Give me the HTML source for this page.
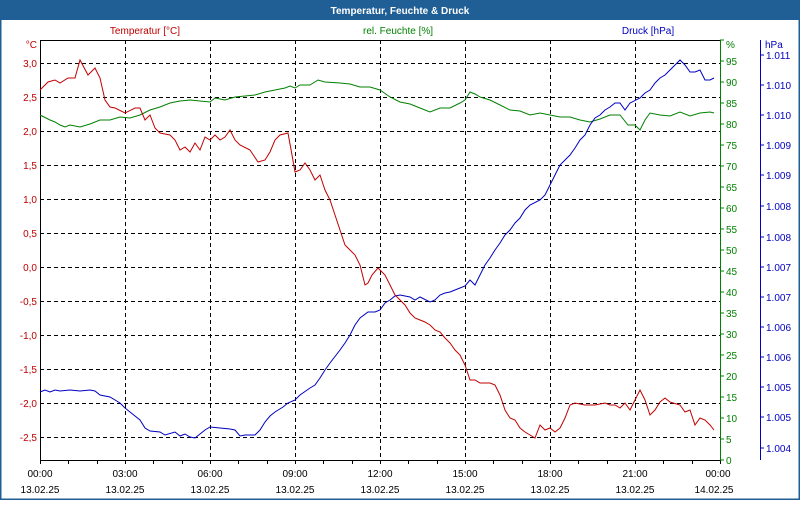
<!DOCTYPE html>
<html><head><style>
body{margin:0;width:800px;height:500px;overflow:hidden;background:#fff;font-family:"Liberation Sans",sans-serif}
</style></head><body>
<svg width="800" height="500" xmlns="http://www.w3.org/2000/svg" font-family="Liberation Sans, sans-serif" font-size="10">
<rect x="0" y="0" width="800" height="500" fill="#fff"/>
<rect x="0" y="0" width="800" height="20" fill="#1f5f96"/>
<rect x="0.5" y="0.5" width="799" height="499" fill="none" stroke="#1f5f96" stroke-width="2"/>
<text x="400" y="14" fill="#fff" font-weight="bold" text-anchor="middle" font-size="10">Temperatur, Feuchte &amp; Druck</text>
<text x="145" y="34" fill="#c00000" text-anchor="middle">Temperatur [°C]</text>
<text x="398" y="34" fill="#008000" text-anchor="middle">rel. Feuchte [%]</text>
<text x="648" y="34" fill="#0000c0" text-anchor="middle">Druck [hPa]</text>
<text x="37" y="48" fill="#c00000" text-anchor="end">°C</text>
<text x="726" y="48" fill="#008000">%</text>
<text x="765" y="48" fill="#0000c0">hPa</text>
<g stroke="#000" stroke-dasharray="4,3" stroke-width="1">
<path d="M40 63.5H720M40 97.5H720M40 131.5H720M40 165.5H720M40 199.5H720M40 233.5H720M40 267.5H720M40 301.5H720M40 335.5H720M40 369.5H720M40 403.5H720M40 437.5H720"/>
<path d="M125.5 40V460M210.5 40V460M295.5 40V460M380.5 40V460M465.5 40V460M550.5 40V460M635.5 40V460"/>
</g>
<path d="M40.5 40V460.5H720M40 40.5H720" stroke="#000" fill="none"/>
<path d="M720.5 40V460" stroke="#008000"/>
<path d="M760.5 40V460" stroke="#0000c0"/>
<g stroke="#000"><path d="M40.5 460v4M68.5 460v4M97.5 460v4M125.5 460v4M153.5 460v4M182.5 460v4M210.5 460v4M238.5 460v4M267.5 460v4M295.5 460v4M323.5 460v4M352.5 460v4M380.5 460v4M408.5 460v4M437.5 460v4M465.5 460v4M493.5 460v4M522.5 460v4M550.5 460v4M578.5 460v4M607.5 460v4M635.5 460v4M663.5 460v4M692.5 460v4M720.5 460v4"/></g>
<g fill="#c00000" text-anchor="end">
<text x="37" y="67">3,0</text><text x="37" y="101">2,5</text><text x="37" y="135">2,0</text><text x="37" y="169">1,5</text><text x="37" y="203">1,0</text><text x="37" y="237">0,5</text><text x="37" y="271">0,0</text><text x="37" y="305">-0,5</text><text x="37" y="339">-1,0</text><text x="37" y="373">-1,5</text><text x="37" y="407">-2,0</text><text x="37" y="441">-2,5</text>
</g>
<g fill="#008000" stroke="#008000">
<path d="M720 460h4M720 439h4M720 418h4M720 397h4M720 376h4M720 355h4M720 334h4M720 313h4M720 292h4M720 271h4M720 250h4M720 229h4M720 208h4M720 187h4M720 166h4M720 145h4M720 124h4M720 103h4M720 82h4M720 61h4M720 40h4"/>
</g>
<g fill="#008000">
<text x="726" y="464">0</text><text x="726" y="443">5</text><text x="726" y="422">10</text><text x="726" y="401">15</text><text x="726" y="380">20</text><text x="726" y="359">25</text><text x="726" y="338">30</text><text x="726" y="317">35</text><text x="726" y="296">40</text><text x="726" y="275">45</text><text x="726" y="254">50</text><text x="726" y="233">55</text><text x="726" y="212">60</text><text x="726" y="191">65</text><text x="726" y="170">70</text><text x="726" y="149">75</text><text x="726" y="128">80</text><text x="726" y="107">85</text><text x="726" y="86">90</text><text x="726" y="65">95</text>
</g>
<g stroke="#0000c0"><path d="M760 55h4M760 85h4M760 115h4M760 145h4M760 175h4M760 206h4M760 237h4M760 267h4M760 297h4M760 327h4M760 357h4M760 387h4M760 417h4M760 448h4"/></g>
<g fill="#0000c0">
<text x="766" y="59">1.011</text><text x="766" y="89">1.010</text><text x="766" y="119">1.010</text><text x="766" y="149">1.009</text><text x="766" y="179">1.009</text><text x="766" y="210">1.008</text><text x="766" y="241">1.008</text><text x="766" y="271">1.007</text><text x="766" y="301">1.007</text><text x="766" y="331">1.006</text><text x="766" y="361">1.006</text><text x="766" y="391">1.005</text><text x="766" y="421">1.005</text><text x="766" y="452">1.004</text>
</g>
<g fill="#000" text-anchor="middle">
<text x="40" y="477">00:00</text><text x="125" y="477">03:00</text><text x="210" y="477">06:00</text><text x="295" y="477">09:00</text><text x="380" y="477">12:00</text><text x="465" y="477">15:00</text><text x="550" y="477">18:00</text><text x="635" y="477">21:00</text><text x="718" y="477">00:00</text>
<text x="40" y="493">13.02.25</text><text x="125" y="493">13.02.25</text><text x="210" y="493">13.02.25</text><text x="295" y="493">13.02.25</text><text x="380" y="493">13.02.25</text><text x="465" y="493">13.02.25</text><text x="550" y="493">13.02.25</text><text x="635" y="493">13.02.25</text><text x="714" y="493">14.02.25</text>
</g>
<g fill="none" stroke-width="1">
<polyline stroke="#008000" points="40,115 50,120 55,122 60,125 65,127 70,125 80,127 90,124 100,120 110,120 120,117 130,118 140,115 150,110 160,107 170,103 180,101 190,100 200,101 210,102 215,98 225,100 235,97 245,96 255,95 265,92 275,90 285,88 290,86 295,88 300,85 310,85 318,80 325,82 340,83 350,84 360,87 370,87 380,90 390,97 400,102 410,104 420,108 430,112 440,108 450,108 460,103 465,100 470,92 475,94 480,97 490,100 500,105 510,110 520,111 530,115 540,113 550,115 560,117 570,117 580,120 590,122 600,119 610,115 620,115 628,125 635,125 640,130 645,120 650,113 660,115 670,116 680,112 690,116 700,113 710,112 714,113"/>
<polyline stroke="#0000c0" points="40,392 45,390 50,392 55,390 60,391 70,390 80,391 90,390 95,391 100,395 110,397 120,403 125,408 130,412 140,420 145,428 150,431 160,432 165,435 175,432 180,436 185,434 190,437 195,438 200,434 205,430 210,427 220,428 230,429 235,430 240,436 245,435 255,435 260,430 265,422 270,416 275,412 283,407 288,403 295,400 300,395 310,388 315,385 320,378 325,370 330,363 340,350 345,343 350,335 355,325 360,318 368,312 375,312 380,310 385,303 390,300 395,296 400,295 410,297 415,300 420,297 430,302 435,300 440,295 445,293 450,292 460,288 465,286 470,280 475,285 480,275 485,265 490,258 495,250 500,243 505,235 510,230 515,223 520,218 525,210 530,205 540,200 545,195 550,185 555,175 560,165 570,155 575,148 580,140 585,135 590,125 595,118 600,115 605,110 610,107 615,103 620,103 625,110 630,103 640,98 645,93 650,90 655,83 660,78 665,75 670,70 675,65 680,60 685,65 690,72 695,72 700,70 705,80 710,80 714,78"/>
<polyline stroke="#c00000" points="40,90 48,82 55,80 60,83 68,78 75,78 80,60 88,75 95,68 100,78 105,100 110,107 115,108 125,113 135,108 140,108 145,120 150,115 155,128 160,133 170,135 175,140 180,150 185,147 190,152 195,143 200,150 205,137 210,140 215,135 220,140 225,137 230,130 235,140 240,145 250,150 258,162 265,160 270,152 275,140 280,135 288,133 292,155 295,172 300,170 305,163 310,170 315,180 320,175 325,190 330,200 335,215 340,230 345,245 350,250 355,255 360,265 365,285 368,283 372,275 378,268 385,275 390,285 395,295 400,300 405,305 410,313 415,318 420,320 425,322 430,325 435,330 440,332 445,338 450,343 455,350 460,355 465,365 470,380 475,380 480,383 490,383 495,385 500,395 505,410 510,418 515,420 520,428 525,432 530,435 535,438 540,425 545,430 550,428 555,432 560,428 565,418 570,405 575,403 585,405 595,405 605,403 610,405 615,405 620,408 625,403 630,410 635,400 640,390 645,400 650,415 655,410 660,402 665,398 670,402 680,405 685,412 690,410 695,425 700,418 705,420 710,425 714,430"/>
</g>
</svg>
</body></html>
